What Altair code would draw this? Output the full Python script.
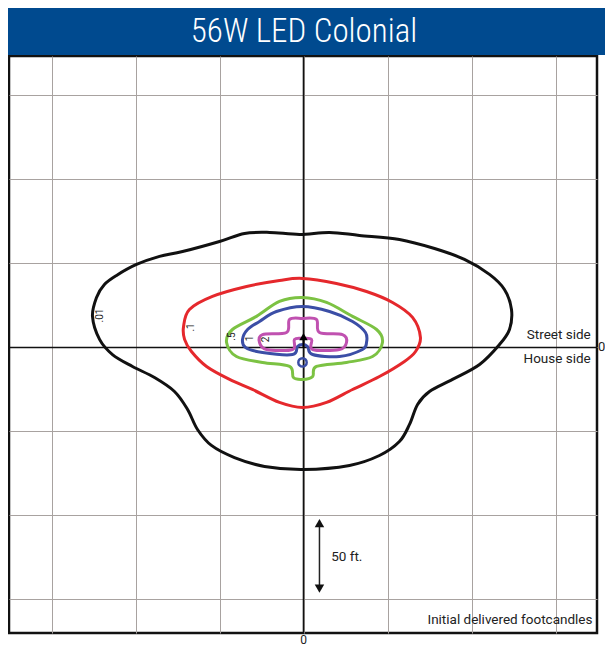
import altair as alt
import pandas as pd

# ---- data (feet; origin = luminaire) ----
levels = [".01", ".1", ".5", "1", "2"]
colors = ["#111111", "#e5282c", "#7cc243", "#3b4ea6", "#c051b0"]

c01_x = [-125.6, -123.2, -118.5, -111.3, -99.4, -85.7, -72.0, -50.0, -35.1, -20.2, -2.4, 15.5, 33.3, 57.1, 78.0, 95.8, 110.7, 119.6, 123.8, 122.6, 116.7, 104.8, 88.7, 75.0, 67.9, 63.1, 57.1, 45.2, 27.4, 0.0, -23.2, -41.1, -54.8, -63.1, -69.0, -76.8, -88.7, -101.8, -113.7, -121.4]
c01_y = [18.5, 29.8, 37.5, 42.9, 49.4, 54.2, 57.1, 63.1, 67.9, 68.5, 67.3, 68.5, 66.7, 64.3, 58.9, 52.4, 43.5, 34.5, 22.6, 10.7, 1.8, -10.1, -19.0, -26.2, -33.9, -45.8, -56.0, -64.3, -70.2, -72.6, -70.8, -65.5, -58.3, -48.8, -36.9, -26.2, -17.9, -11.3, -4.2, 4.8]

c1_x = [-71.4, -67.9, -54.2, -33.9, -14.3, -0.6, 19.6, 37.5, 53.0, 64.9, 69.6, 66.7, 60.1, 45.2, 29.2, 13.7, -0.6, -14.3, -30.4, -44.0, -57.7, -66.7, -70.8]
c1_y = [12.5, 22.6, 30.4, 36.3, 39.9, 41.1, 38.1, 33.3, 26.8, 17.9, 6.0, -2.4, -8.3, -17.3, -25.0, -32.7, -35.7, -32.7, -25.0, -19.0, -11.3, -2.4, 4.8]

c5_x = [-45.8, -42.3, -28.0, -14.3, -0.6, 13.7, 29.2, 43.5, 47.0, 41.1, 25.6, 7.7, 5.4, -0.6, -6.0, -8.3, -24.4, -39.9]
c5_y = [3.0, 10.7, 18.5, 27.4, 29.8, 26.8, 18.5, 10.7, 3.0, -5.4, -8.9, -11.3, -17.3, -19.0, -17.9, -11.3, -8.9, -5.4]

c10_x = [-36.3, -33.3, -26.2, -16.1, -0.6, 15.5, 29.2, 36.9, 37.5, 35.1, 21.4, 5.4, 2.4, -0.6, -3.6, -6.5, -24.4, -34.5]
c10_y = [4.8, 10.7, 15.5, 21.4, 24.4, 21.4, 15.5, 8.9, 3.0, -1.2, -5.4, -4.2, 0.6, 1.8, 0.6, -4.2, -3.0, 0.0]

c20_x = [-26.2, -24.4, -10.1, -8.3, -0.6, 7.7, 9.5, 23.2, 25.6, 21.4, 5.4, 4.8, -0.6, -5.4, -6.5, -22.0]
c20_y = [3.0, 7.7, 8.9, 16.7, 17.3, 16.7, 8.9, 7.7, 3.0, -1.2, -1.2, 4.8, 5.4, 4.8, -1.2, -1.2]

blue_ring = {"x": -0.6, "y": -8.9}

label_x = [-121.4, -66.7, -42.3, -32.1, -22.6]
label_y = [19.0, 11.9, 6.5, 5.4, 4.8]

grid_vals = [-150, -100, -50, 0, 50, 100, 150]

# ---- tables ----
rows = []
for lev, xs, ys in zip(levels, [c01_x, c1_x, c5_x, c10_x, c20_x], [c01_y, c1_y, c5_y, c10_y, c20_y]):
    for i, (a, b) in enumerate(zip(xs, ys)):
        rows.append({"level": lev, "i": i, "x": a, "y": b})
contours = pd.DataFrame(rows)
labels = pd.DataFrame({"x": label_x, "y": label_y, "t": levels})

W, H = 588, 577
X = alt.Scale(domain=[-175.3, 174.7], nice=False, zero=False)
Y = alt.Scale(domain=[-169.95, 173.5], nice=False, zero=False)
xax = alt.Axis(values=grid_vals, grid=True, labels=False, ticks=False, domain=False, title=None,
               gridColor="#a8a2a0", gridWidth=1)
yax = alt.Axis(values=grid_vals, grid=True, labels=False, ticks=False, domain=False, title=None,
               gridColor="#a8a2a0", gridWidth=1)

one = pd.DataFrame({"a": [0]})

gridl = alt.Chart(one).mark_point(opacity=0).encode(
    x=alt.X("a:Q", scale=X, axis=xax), y=alt.Y("a:Q", scale=Y, axis=yax))

zero_v = alt.Chart(pd.DataFrame({"x": [0]})).mark_rule(color="#111", strokeWidth=1.6).encode(
    x=alt.X("x:Q", scale=X))
zero_h = alt.Chart(pd.DataFrame({"y": [0]})).mark_rule(color="#111", strokeWidth=1.6).encode(
    y=alt.Y("y:Q", scale=Y))

lines = alt.Chart(contours).mark_line(interpolate="cardinal-closed", strokeWidth=3).encode(
    x=alt.X("x:Q", scale=X),
    y=alt.Y("y:Q", scale=Y),
    color=alt.Color("level:N", scale=alt.Scale(domain=levels, range=colors), legend=None),
    detail="level:N",
    order=alt.Order("i:Q"),
)

ring = alt.Chart(pd.DataFrame([blue_ring])).mark_point(
    shape="circle", filled=False, size=70, strokeWidth=2.5, color=colors[3], opacity=1).encode(
    x=alt.X("x:Q", scale=X), y=alt.Y("y:Q", scale=Y))

lbl = alt.Chart(labels).mark_text(angle=270, fontSize=10, font="Roboto", color="#222").encode(
    x=alt.X("x:Q", scale=X), y=alt.Y("y:Q", scale=Y), text="t:N")

# luminaire marker
lum_stem = alt.Chart(pd.DataFrame({"x": [0], "y": [0], "y2": [5]})).mark_rule(color="black", strokeWidth=2).encode(
    x=alt.X("x:Q", scale=X), y=alt.Y("y:Q", scale=Y), y2="y2:Q")
lum_tri = alt.Chart(pd.DataFrame({"x": [0], "y": [6.5]})).mark_point(
    shape="triangle-up", filled=True, size=70, color="black", opacity=1).encode(
    x=alt.X("x:Q", scale=X), y=alt.Y("y:Q", scale=Y))

# 50 ft. scale arrow
arr_rule = alt.Chart(pd.DataFrame({"x": [9.5], "y": [-105], "y2": [-143]})).mark_rule(color="#222", strokeWidth=1.5).encode(
    x=alt.X("x:Q", scale=X), y=alt.Y("y:Q", scale=Y), y2="y2:Q")
arr_up = alt.Chart(pd.DataFrame({"x": [9.5], "y": [-104.5]})).mark_point(
    shape="triangle-up", filled=True, size=90, color="#111", opacity=1).encode(
    x=alt.X("x:Q", scale=X), y=alt.Y("y:Q", scale=Y))
arr_dn = alt.Chart(pd.DataFrame({"x": [9.5], "y": [-143.5]})).mark_point(
    shape="triangle-down", filled=True, size=90, color="#111", opacity=1).encode(
    x=alt.X("x:Q", scale=X), y=alt.Y("y:Q", scale=Y))

FONT = "Roboto"
TFONT = "Roboto Condensed"

notes = pd.DataFrame({
    "x": [16.5, 171.0, 171.0, 172.0],
    "y": [-124.5, 7.5, -6.8, -162.5],
    "t": ["50 ft.", "Street side", "House side", "Initial delivered footcandles"],
    "al": ["left", "right", "right", "right"],
})
notes_l = alt.Chart(notes[notes.al == "left"]).mark_text(align="left", baseline="middle", fontSize=13.5, font=FONT, color="#222").encode(
    x=alt.X("x:Q", scale=X), y=alt.Y("y:Q", scale=Y), text="t:N")
notes_r = alt.Chart(notes[notes.al == "right"]).mark_text(align="right", baseline="middle", fontSize=13.5, font=FONT, color="#222").encode(
    x=alt.X("x:Q", scale=X), y=alt.Y("y:Q", scale=Y), text="t:N")

zero_b = alt.Chart(pd.DataFrame({"x": [0], "y": [-176.5], "t": ["0"]})).mark_text(
    fontSize=12, font=FONT, color="#222", baseline="alphabetic").encode(
    x=alt.X("x:Q", scale=X), y=alt.Y("y:Q", scale=Y), text="t:N")
zero_r = alt.Chart(pd.DataFrame({"x": [177.5], "y": [0], "t": ["0"]})).mark_text(
    fontSize=13, font=FONT, color="#222", baseline="middle").encode(
    x=alt.X("x:Q", scale=X), y=alt.Y("y:Q", scale=Y), text="t:N")

banner = alt.Chart(one).mark_rect(color="#004a8f").encode(
    x=alt.value(-1), x2=alt.value(596), y=alt.value(-48), y2=alt.value(-1))
title = alt.Chart(pd.DataFrame({"t": ["56W LED Colonial"]})).mark_text(
    color="white", fontSize=33, font=TFONT, fontWeight=300, align="center", baseline="middle").encode(
    x=alt.value(295), y=alt.value(-24), text="t:N")

chart = alt.layer(
    gridl, zero_v, zero_h, lines, ring, lbl, lum_stem, lum_tri,
    arr_rule, arr_up, arr_dn, notes_l, notes_r, zero_b, zero_r, banner, title
).properties(
    width=W, height=H,
    autosize=alt.AutoSizeParams(type="none"),
    padding={"left": 1, "top": 48, "right": 8, "bottom": 15},
).configure_view(stroke="#111", strokeWidth=2.5)

chart.save("out.html", embed_options={"renderer": "svg", "actions": False})
